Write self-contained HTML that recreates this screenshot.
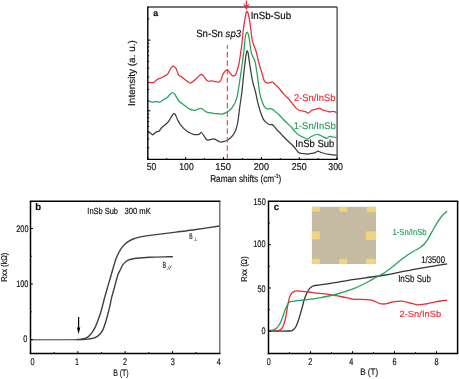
<!DOCTYPE html>
<html><head><meta charset="utf-8"><style>
html,body{margin:0;padding:0;background:#fff;}
svg{display:block;will-change:transform;filter:blur(0.45px);}
text{font-family:"Liberation Sans",sans-serif;text-rendering:geometricPrecision;}
</style></head><body>
<svg width="459" height="379" viewBox="0 0 459 379">
<rect width="459" height="379" fill="#fff"/>
<g fill="#111">
<path d="M147.60,131.20 C148.05,131.52 149.45,132.50 150.30,133.10 C151.15,133.70 152.00,134.77 152.70,134.80 C153.40,134.83 153.80,133.83 154.50,133.30 C155.20,132.77 156.10,132.00 156.90,131.60 C157.70,131.20 158.52,131.55 159.30,130.90 C160.08,130.25 160.62,128.72 161.60,127.70 C162.58,126.68 164.10,125.78 165.20,124.80 C166.30,123.82 167.28,122.93 168.20,121.80 C169.12,120.67 169.83,119.33 170.70,118.00 C171.57,116.67 172.63,114.35 173.40,113.80 C174.17,113.25 174.53,113.57 175.30,114.70 C176.07,115.83 177.12,118.92 178.00,120.60 C178.88,122.28 179.48,123.33 180.60,124.80 C181.72,126.27 183.35,128.17 184.70,129.40 C186.05,130.63 187.23,131.37 188.70,132.20 C190.17,133.03 191.80,134.05 193.50,134.40 C195.20,134.75 197.60,134.62 198.90,134.30 C200.20,133.98 200.50,132.32 201.30,132.50 C202.10,132.68 202.92,134.32 203.70,135.40 C204.48,136.48 205.32,138.20 206.00,139.00 C206.68,139.80 207.10,140.10 207.80,140.20 C208.50,140.30 209.20,139.83 210.20,139.60 C211.20,139.37 212.72,138.70 213.80,138.80 C214.88,138.90 215.62,139.67 216.70,140.20 C217.78,140.73 219.20,141.77 220.30,142.00 C221.40,142.23 222.22,141.80 223.30,141.60 C224.38,141.40 225.82,141.23 226.80,140.80 C227.78,140.37 228.20,139.90 229.20,139.00 C230.20,138.10 231.72,136.87 232.80,135.40 C233.88,133.93 234.90,132.27 235.70,130.20 C236.50,128.13 237.07,125.70 237.60,123.00 C238.13,120.30 238.52,116.83 238.90,114.00 C239.28,111.17 239.40,109.67 239.90,106.00 C240.40,102.33 241.35,96.50 241.90,92.00 C242.45,87.50 242.65,84.15 243.20,79.00 C243.75,73.85 244.67,65.43 245.20,61.10 C245.73,56.77 246.07,54.75 246.40,53.00 C246.73,51.25 246.92,50.60 247.20,50.60 C247.48,50.60 247.78,51.47 248.10,53.00 C248.42,54.53 248.60,56.47 249.10,59.80 C249.60,63.13 250.43,69.05 251.10,73.00 C251.77,76.95 252.38,80.42 253.10,83.50 C253.82,86.58 254.63,88.38 255.40,91.50 C256.17,94.62 256.88,98.88 257.70,102.20 C258.52,105.52 259.42,108.67 260.30,111.40 C261.18,114.13 262.00,116.73 263.00,118.60 C264.00,120.47 265.20,121.60 266.30,122.60 C267.40,123.60 268.62,124.27 269.60,124.60 C270.58,124.93 271.32,124.17 272.20,124.60 C273.08,125.03 274.02,126.22 274.90,127.20 C275.78,128.18 276.65,129.57 277.50,130.50 C278.35,131.43 279.20,131.98 280.00,132.80 C280.80,133.62 281.20,134.23 282.30,135.40 C283.40,136.57 284.85,138.12 286.60,139.80 C288.35,141.48 291.17,143.83 292.80,145.50 C294.43,147.17 295.38,148.58 296.40,149.80 C297.42,151.02 297.88,152.18 298.90,152.80 C299.92,153.42 301.08,153.28 302.50,153.50 C303.92,153.72 305.77,154.13 307.40,154.10 C309.03,154.07 310.88,153.60 312.30,153.30 C313.72,153.00 314.98,152.67 315.90,152.30 C316.82,151.93 316.98,151.10 317.80,151.10 C318.62,151.10 319.68,151.90 320.80,152.30 C321.92,152.70 323.08,153.15 324.50,153.50 C325.92,153.85 327.88,154.17 329.30,154.40 C330.72,154.63 331.75,154.77 333.00,154.90 C334.25,155.03 336.17,155.15 336.80,155.20" fill="none" stroke="#3c3c3c" stroke-width="1.25" stroke-linejoin="round"/>
<path d="M147.60,99.80 C147.83,100.02 148.12,100.70 149.00,101.10 C149.88,101.50 151.70,102.13 152.90,102.20 C154.10,102.27 155.10,101.50 156.20,101.50 C157.30,101.50 158.50,102.35 159.50,102.20 C160.50,102.05 161.32,101.15 162.20,100.60 C163.08,100.05 163.93,99.42 164.80,98.90 C165.67,98.38 166.52,98.28 167.40,97.50 C168.28,96.72 169.27,95.03 170.10,94.20 C170.93,93.37 171.63,92.50 172.40,92.50 C173.17,92.50 173.98,93.37 174.70,94.20 C175.42,95.03 175.93,96.28 176.70,97.50 C177.47,98.72 178.20,100.33 179.30,101.50 C180.40,102.67 181.98,103.52 183.30,104.50 C184.62,105.48 186.00,106.58 187.20,107.40 C188.40,108.22 189.60,108.95 190.50,109.40 C191.40,109.85 191.80,109.93 192.60,110.10 C193.40,110.27 194.42,110.57 195.30,110.40 C196.18,110.23 196.92,109.42 197.90,109.10 C198.88,108.78 200.32,108.43 201.20,108.50 C202.08,108.57 202.43,108.95 203.20,109.50 C203.97,110.05 204.82,111.27 205.80,111.80 C206.78,112.33 208.00,112.48 209.10,112.70 C210.20,112.92 211.40,112.93 212.40,113.10 C213.40,113.27 214.22,113.60 215.10,113.70 C215.98,113.80 216.60,113.65 217.70,113.70 C218.80,113.75 220.48,114.10 221.70,114.00 C222.92,113.90 223.90,113.58 225.00,113.10 C226.10,112.62 227.38,111.70 228.30,111.10 C229.22,110.50 229.78,110.22 230.50,109.50 C231.22,108.78 231.80,108.02 232.60,106.80 C233.40,105.58 234.52,104.07 235.30,102.20 C236.08,100.33 236.72,98.13 237.30,95.60 C237.88,93.07 238.37,89.67 238.80,87.00 C239.23,84.33 239.38,83.03 239.90,79.60 C240.42,76.17 241.23,71.23 241.90,66.40 C242.57,61.57 243.33,55.50 243.90,50.60 C244.47,45.70 244.92,39.88 245.30,37.00 C245.68,34.12 245.88,34.08 246.20,33.30 C246.52,32.52 246.83,32.10 247.20,32.30 C247.57,32.50 248.00,33.05 248.40,34.50 C248.80,35.95 249.15,38.10 249.60,41.00 C250.05,43.90 250.52,49.20 251.10,51.90 C251.68,54.60 252.43,55.55 253.10,57.20 C253.77,58.85 254.45,59.17 255.10,61.80 C255.75,64.43 256.45,69.38 257.00,73.00 C257.55,76.62 257.95,80.18 258.40,83.50 C258.85,86.82 259.05,89.78 259.70,92.90 C260.35,96.02 261.42,99.78 262.30,102.20 C263.18,104.62 264.12,106.27 265.00,107.40 C265.88,108.53 266.62,108.78 267.60,109.00 C268.58,109.22 269.92,108.53 270.90,108.70 C271.88,108.87 272.62,109.37 273.50,110.00 C274.38,110.63 275.38,111.83 276.20,112.50 C277.02,113.17 277.32,112.97 278.40,114.00 C279.48,115.03 281.27,117.20 282.70,118.70 C284.13,120.20 285.53,121.57 287.00,123.00 C288.47,124.43 290.17,125.87 291.50,127.30 C292.83,128.73 293.78,130.32 295.00,131.60 C296.22,132.88 297.52,134.10 298.80,135.00 C300.08,135.90 301.25,136.30 302.70,137.00 C304.15,137.70 306.07,139.28 307.50,139.20 C308.93,139.12 309.70,137.28 311.30,136.50 C312.90,135.72 315.35,134.57 317.10,134.50 C318.85,134.43 320.22,135.47 321.80,136.10 C323.38,136.73 325.32,138.23 326.60,138.30 C327.88,138.37 328.37,136.72 329.50,136.50 C330.63,136.28 332.22,136.83 333.40,137.00 C334.58,137.17 336.07,137.42 336.60,137.50" fill="none" stroke="#25a25c" stroke-width="1.25" stroke-linejoin="round"/>
<path d="M147.60,82.30 C148.60,82.30 151.95,82.80 153.60,82.30 C155.25,81.80 156.18,80.07 157.50,79.30 C158.82,78.53 160.28,78.30 161.50,77.70 C162.72,77.10 163.82,76.25 164.80,75.70 C165.78,75.15 166.42,75.60 167.40,74.40 C168.38,73.20 169.75,69.88 170.70,68.50 C171.65,67.12 172.22,66.10 173.10,66.10 C173.98,66.10 175.08,67.02 176.00,68.50 C176.92,69.98 177.62,73.58 178.60,75.00 C179.58,76.42 180.68,76.12 181.90,77.00 C183.12,77.88 184.57,79.30 185.90,80.30 C187.23,81.30 188.78,82.77 189.90,83.00 C191.02,83.23 191.60,82.37 192.60,81.70 C193.60,81.03 194.80,80.00 195.90,79.00 C197.00,78.00 198.25,76.47 199.20,75.70 C200.15,74.93 200.82,74.28 201.60,74.40 C202.38,74.52 203.08,75.45 203.90,76.40 C204.72,77.35 205.63,79.27 206.50,80.10 C207.37,80.93 208.22,81.32 209.10,81.40 C209.98,81.48 211.03,80.60 211.80,80.60 C212.57,80.60 212.93,81.22 213.70,81.40 C214.47,81.58 215.55,81.55 216.40,81.70 C217.25,81.85 218.03,82.63 218.80,82.30 C219.57,81.97 220.20,81.23 221.00,79.70 C221.80,78.17 222.57,74.75 223.60,73.10 C224.63,71.45 226.20,69.92 227.20,69.80 C228.20,69.68 228.73,71.43 229.60,72.40 C230.47,73.37 231.48,75.13 232.40,75.60 C233.32,76.07 234.28,76.08 235.10,75.20 C235.92,74.32 236.62,72.43 237.30,70.30 C237.98,68.17 238.65,65.25 239.20,62.40 C239.75,59.55 240.15,56.27 240.60,53.20 C241.05,50.13 241.53,47.20 241.90,44.00 C242.27,40.80 242.32,38.03 242.80,34.00 C243.28,29.97 244.20,23.45 244.80,19.80 C245.40,16.15 245.85,13.20 246.40,12.10 C246.95,11.00 247.48,11.27 248.10,13.20 C248.72,15.13 249.42,19.23 250.10,23.70 C250.78,28.17 251.55,36.37 252.20,40.00 C252.85,43.63 253.30,43.42 254.00,45.50 C254.70,47.58 255.67,49.90 256.40,52.50 C257.13,55.10 257.75,58.57 258.40,61.10 C259.05,63.63 259.65,65.50 260.30,67.70 C260.95,69.90 261.63,72.10 262.30,74.30 C262.97,76.50 263.53,79.47 264.30,80.90 C265.07,82.33 266.02,82.57 266.90,82.90 C267.78,83.23 268.72,83.05 269.60,82.90 C270.48,82.75 271.43,81.90 272.20,82.00 C272.97,82.10 273.53,82.92 274.20,83.50 C274.87,84.08 275.47,84.80 276.20,85.50 C276.93,86.20 277.37,86.30 278.60,87.70 C279.83,89.10 281.92,92.02 283.60,93.90 C285.28,95.78 287.27,97.43 288.70,99.00 C290.13,100.57 291.05,101.87 292.20,103.30 C293.35,104.73 294.47,106.45 295.60,107.60 C296.73,108.75 297.87,109.63 299.00,110.20 C300.13,110.77 301.25,110.72 302.40,111.00 C303.55,111.28 304.90,111.55 305.90,111.90 C306.90,112.25 307.40,113.38 308.40,113.10 C309.40,112.82 310.75,110.83 311.90,110.20 C313.05,109.57 314.02,109.60 315.30,109.30 C316.58,109.00 318.32,108.25 319.60,108.40 C320.88,108.55 321.85,109.77 323.00,110.20 C324.15,110.63 325.35,110.72 326.50,111.00 C327.65,111.28 328.77,111.83 329.90,111.90 C331.03,111.97 332.18,111.27 333.30,111.40 C334.42,111.53 336.05,112.48 336.60,112.70" fill="none" stroke="#eb2b35" stroke-width="1.25" stroke-linejoin="round"/>
<line x1="227.3" y1="45" x2="227.3" y2="158.5" stroke="#eb2b35" stroke-width="1" stroke-dasharray="5.5 3" stroke-dashoffset="1.6"/>
<line x1="147.80" y1="7.00" x2="337.10" y2="7.00" stroke="#444" stroke-width="1.3"/>
<line x1="337.10" y1="7.00" x2="337.10" y2="159.40" stroke="#444" stroke-width="1.3"/>
<line x1="147.80" y1="6.50" x2="147.80" y2="160.10" stroke="#000" stroke-width="1.4"/>
<line x1="147.10" y1="159.40" x2="337.60" y2="159.40" stroke="#000" stroke-width="1.4"/>
<line x1="147.80" y1="159.40" x2="147.80" y2="157.10" stroke="#000" stroke-width="1"/>
<line x1="166.73" y1="159.40" x2="166.73" y2="158.10" stroke="#000" stroke-width="1"/>
<line x1="185.66" y1="159.40" x2="185.66" y2="157.10" stroke="#000" stroke-width="1"/>
<line x1="204.59" y1="159.40" x2="204.59" y2="158.10" stroke="#000" stroke-width="1"/>
<line x1="223.52" y1="159.40" x2="223.52" y2="157.10" stroke="#000" stroke-width="1"/>
<line x1="242.45" y1="159.40" x2="242.45" y2="158.10" stroke="#000" stroke-width="1"/>
<line x1="261.38" y1="159.40" x2="261.38" y2="157.10" stroke="#000" stroke-width="1"/>
<line x1="280.31" y1="159.40" x2="280.31" y2="158.10" stroke="#000" stroke-width="1"/>
<line x1="299.24" y1="159.40" x2="299.24" y2="157.10" stroke="#000" stroke-width="1"/>
<line x1="318.17" y1="159.40" x2="318.17" y2="158.10" stroke="#000" stroke-width="1"/>
<line x1="337.10" y1="159.40" x2="337.10" y2="157.10" stroke="#000" stroke-width="1"/>
<line x1="147.80" y1="147.77" x2="149.20" y2="147.77" stroke="#000" stroke-width="1"/>
<line x1="147.80" y1="138.93" x2="149.20" y2="138.93" stroke="#000" stroke-width="1"/>
<line x1="147.80" y1="132.08" x2="149.20" y2="132.08" stroke="#000" stroke-width="1"/>
<line x1="147.80" y1="126.48" x2="149.20" y2="126.48" stroke="#000" stroke-width="1"/>
<line x1="147.80" y1="121.75" x2="149.20" y2="121.75" stroke="#000" stroke-width="1"/>
<line x1="147.80" y1="117.65" x2="149.20" y2="117.65" stroke="#000" stroke-width="1"/>
<line x1="147.80" y1="114.04" x2="149.20" y2="114.04" stroke="#000" stroke-width="1"/>
<line x1="147.80" y1="110.80" x2="150.40" y2="110.80" stroke="#000" stroke-width="1"/>
<line x1="147.80" y1="89.52" x2="149.20" y2="89.52" stroke="#000" stroke-width="1"/>
<line x1="147.80" y1="77.07" x2="149.20" y2="77.07" stroke="#000" stroke-width="1"/>
<line x1="147.80" y1="68.23" x2="149.20" y2="68.23" stroke="#000" stroke-width="1"/>
<line x1="147.80" y1="61.38" x2="149.20" y2="61.38" stroke="#000" stroke-width="1"/>
<line x1="147.80" y1="55.78" x2="149.20" y2="55.78" stroke="#000" stroke-width="1"/>
<line x1="147.80" y1="51.05" x2="149.20" y2="51.05" stroke="#000" stroke-width="1"/>
<line x1="147.80" y1="46.95" x2="149.20" y2="46.95" stroke="#000" stroke-width="1"/>
<line x1="147.80" y1="43.34" x2="149.20" y2="43.34" stroke="#000" stroke-width="1"/>
<line x1="147.80" y1="40.10" x2="150.40" y2="40.10" stroke="#000" stroke-width="1"/>
<line x1="147.80" y1="18.82" x2="149.20" y2="18.82" stroke="#000" stroke-width="1"/>
<line x1="246.4" y1="0.6" x2="246.4" y2="7" stroke="#eb2b35" stroke-width="1.3"/>
<path d="M243.0,3.3 L246.4,10.3 L249.8,3.3 L246.4,6.0 Z" fill="#eb2b35"/>
<defs><linearGradient id="fl" gradientUnits="userSpaceOnUse" x1="30.5" y1="0" x2="82" y2="0"><stop offset="0" stop-color="#7a7a7a"/><stop offset="0.75" stop-color="#707070"/><stop offset="1" stop-color="#404040"/></linearGradient></defs>
<line x1="30.5" y1="339.75" x2="82" y2="339.6" stroke="url(#fl)" stroke-width="1.4"/>
<path d="M77.00,339.60 C77.72,339.52 79.87,339.33 81.30,339.10 C82.73,338.87 84.37,338.65 85.60,338.20 C86.83,337.75 87.65,337.32 88.70,336.40 C89.75,335.48 90.83,334.20 91.90,332.70 C92.97,331.20 94.13,329.33 95.10,327.40 C96.07,325.47 96.83,323.38 97.70,321.10 C98.57,318.82 99.52,316.17 100.30,313.70 C101.08,311.23 101.78,308.58 102.40,306.30 C103.02,304.02 103.43,302.13 104.00,300.00 C104.57,297.87 105.15,295.82 105.80,293.50 C106.45,291.18 107.18,288.57 107.90,286.10 C108.62,283.63 109.38,281.17 110.10,278.70 C110.82,276.23 111.52,273.67 112.20,271.30 C112.88,268.93 113.52,266.72 114.20,264.50 C114.88,262.28 115.50,260.05 116.30,258.00 C117.10,255.95 118.12,253.88 119.00,252.20 C119.88,250.52 120.63,249.23 121.60,247.90 C122.57,246.57 123.57,245.33 124.80,244.20 C126.03,243.07 127.60,241.97 129.00,241.10 C130.40,240.23 131.80,239.58 133.20,239.00 C134.60,238.42 135.98,238.00 137.40,237.60 C138.82,237.20 140.27,236.88 141.70,236.60 C143.13,236.32 144.62,236.10 146.00,235.90 C147.38,235.70 147.67,235.70 150.00,235.40 C152.33,235.10 155.67,234.65 160.00,234.10 C164.33,233.55 170.00,232.87 176.00,232.10 C182.00,231.33 188.75,230.52 196.00,229.50 C203.25,228.48 215.58,226.58 219.50,226.00" fill="none" stroke="#404040" stroke-width="1.4" stroke-linejoin="round"/>
<path d="M81.00,339.60 C82.12,339.52 85.88,339.28 87.70,339.10 C89.52,338.92 90.50,338.82 91.90,338.50 C93.30,338.18 94.78,337.90 96.10,337.20 C97.42,336.50 98.65,335.57 99.80,334.30 C100.95,333.03 102.03,331.62 103.00,329.60 C103.97,327.58 104.82,324.67 105.60,322.20 C106.38,319.73 107.00,317.45 107.70,314.80 C108.40,312.15 109.15,309.15 109.80,306.30 C110.45,303.45 110.95,300.37 111.60,297.70 C112.25,295.03 112.98,292.93 113.70,290.30 C114.42,287.67 115.18,284.53 115.90,281.90 C116.62,279.27 117.22,276.62 118.00,274.50 C118.78,272.38 119.82,270.82 120.60,269.20 C121.38,267.58 121.83,266.05 122.70,264.80 C123.57,263.55 124.75,262.52 125.80,261.70 C126.85,260.88 127.77,260.40 129.00,259.90 C130.23,259.40 131.80,258.98 133.20,258.70 C134.60,258.42 135.98,258.35 137.40,258.20 C138.82,258.05 140.28,257.92 141.70,257.80 C143.12,257.68 144.52,257.58 145.90,257.50 C147.28,257.42 148.08,257.37 150.00,257.30 C151.92,257.23 154.90,257.17 157.40,257.10 C159.90,257.03 162.42,256.97 165.00,256.90 C167.58,256.83 171.58,256.73 172.90,256.70" fill="none" stroke="#404040" stroke-width="1.4" stroke-linejoin="round"/>
<line x1="29.80" y1="201.30" x2="220.40" y2="201.30" stroke="#000" stroke-width="1.5"/>
<line x1="219.80" y1="201.30" x2="219.80" y2="353.40" stroke="#555" stroke-width="1.2"/>
<line x1="30.50" y1="201.30" x2="30.50" y2="354.10" stroke="#000" stroke-width="1.5"/>
<line x1="29.80" y1="353.40" x2="220.40" y2="353.40" stroke="#000" stroke-width="1.5"/>
<line x1="54.16" y1="353.40" x2="54.16" y2="352.10" stroke="#000" stroke-width="1"/>
<line x1="77.83" y1="353.40" x2="77.83" y2="351.10" stroke="#000" stroke-width="1"/>
<line x1="101.49" y1="353.40" x2="101.49" y2="352.10" stroke="#000" stroke-width="1"/>
<line x1="125.15" y1="353.40" x2="125.15" y2="351.10" stroke="#000" stroke-width="1"/>
<line x1="148.81" y1="353.40" x2="148.81" y2="352.10" stroke="#000" stroke-width="1"/>
<line x1="172.48" y1="353.40" x2="172.48" y2="351.10" stroke="#000" stroke-width="1"/>
<line x1="196.14" y1="353.40" x2="196.14" y2="352.10" stroke="#000" stroke-width="1"/>
<line x1="30.50" y1="339.60" x2="32.90" y2="339.60" stroke="#000" stroke-width="1"/>
<line x1="30.50" y1="311.83" x2="31.80" y2="311.83" stroke="#000" stroke-width="1"/>
<line x1="30.50" y1="284.05" x2="32.90" y2="284.05" stroke="#000" stroke-width="1"/>
<line x1="30.50" y1="256.28" x2="31.80" y2="256.28" stroke="#000" stroke-width="1"/>
<line x1="30.50" y1="228.50" x2="32.90" y2="228.50" stroke="#000" stroke-width="1"/>
<line x1="78.6" y1="317.0" x2="78.6" y2="329" stroke="#000" stroke-width="1.2"/>
<path d="M76.9,327.6 L78.6,333.9 L80.3,327.6 Z" fill="#000"/>
<rect x="311.9" y="206.8" width="64.1" height="57.2" fill="#c5bba2"/>
<rect x="311.9" y="206.8" width="8.2" height="5.0" rx="1.6" fill="#f0d47e"/>
<rect x="339.1" y="206.8" width="8.2" height="5.0" rx="1.6" fill="#f0d47e"/>
<rect x="366.6" y="206.8" width="9.4" height="5.4" rx="1.6" fill="#f0d47e"/>
<rect x="311.9" y="231.2" width="8.0" height="8.4" rx="1.6" fill="#f0d47e"/>
<rect x="365.7" y="231.2" width="10.3" height="8.9" rx="1.6" fill="#f0d47e"/>
<rect x="311.9" y="258.8" width="8.2" height="5.2" rx="1.6" fill="#f0d47e"/>
<rect x="339.1" y="258.8" width="8.2" height="5.2" rx="1.6" fill="#f0d47e"/>
<rect x="365.7" y="258.8" width="10.3" height="5.2" rx="1.6" fill="#f0d47e"/>
<path d="M268.90,331.00 C272.25,331.00 285.02,331.15 289.00,331.00 C292.98,330.85 291.68,330.77 292.80,330.10 C293.92,329.43 294.87,328.35 295.70,327.00 C296.53,325.65 297.10,323.90 297.80,322.00 C298.50,320.10 299.18,317.97 299.90,315.60 C300.62,313.23 301.38,310.42 302.10,307.80 C302.82,305.18 303.50,302.17 304.20,299.90 C304.90,297.63 305.58,295.85 306.30,294.20 C307.02,292.55 307.67,291.18 308.50,290.00 C309.33,288.82 310.37,287.82 311.30,287.10 C312.23,286.38 312.98,286.03 314.10,285.70 C315.22,285.37 314.15,285.67 318.00,285.10 C321.85,284.53 331.15,283.25 337.20,282.30 C343.25,281.35 348.58,280.28 354.30,279.40 C360.02,278.52 366.38,277.73 371.50,277.00 C376.62,276.27 380.07,275.85 385.00,275.00 C389.93,274.15 395.72,272.93 401.10,271.90 C406.48,270.87 411.92,269.77 417.30,268.80 C422.68,267.83 428.43,266.92 433.40,266.10 C438.37,265.28 444.82,264.27 447.10,263.90" fill="none" stroke="#333" stroke-width="1.3" stroke-linejoin="round"/>
<path d="M268.90,331.00 C269.90,331.00 273.30,331.08 274.90,331.00 C276.50,330.92 277.40,330.88 278.50,330.50 C279.60,330.12 280.68,329.52 281.50,328.70 C282.32,327.88 282.78,327.12 283.40,325.60 C284.02,324.08 284.70,321.62 285.20,319.60 C285.70,317.58 286.00,315.73 286.40,313.50 C286.80,311.27 287.20,308.43 287.60,306.20 C288.00,303.97 288.40,301.77 288.80,300.10 C289.20,298.43 289.48,297.38 290.00,296.20 C290.52,295.02 291.18,293.80 291.90,293.00 C292.62,292.20 293.42,291.75 294.30,291.40 C295.18,291.05 295.87,290.90 297.20,290.90 C298.53,290.90 300.30,291.22 302.30,291.40 C304.30,291.58 306.63,291.70 309.20,292.00 C311.77,292.30 314.75,292.85 317.70,293.20 C320.65,293.55 324.23,293.75 326.90,294.10 C329.57,294.45 331.42,294.90 333.70,295.30 C335.98,295.70 338.32,296.07 340.60,296.50 C342.88,296.93 345.40,297.45 347.40,297.90 C349.40,298.35 350.58,298.97 352.60,299.20 C354.62,299.43 357.50,299.23 359.50,299.30 C361.50,299.37 362.75,299.50 364.60,299.60 C366.45,299.70 368.88,299.62 370.60,299.90 C372.32,300.18 373.42,300.70 374.90,301.30 C376.38,301.90 377.98,303.05 379.50,303.50 C381.02,303.95 382.42,304.08 384.00,304.00 C385.58,303.92 387.17,303.40 389.00,303.00 C390.83,302.60 392.83,301.90 395.00,301.60 C397.17,301.30 399.50,300.97 402.00,301.20 C404.50,301.43 407.42,302.40 410.00,303.00 C412.58,303.60 414.92,304.63 417.50,304.80 C420.08,304.97 422.85,304.40 425.50,304.00 C428.15,303.60 430.90,302.90 433.40,302.40 C435.90,301.90 438.22,301.37 440.50,301.00 C442.78,300.63 446.00,300.33 447.10,300.20" fill="none" stroke="#eb2b35" stroke-width="1.3" stroke-linejoin="round"/>
<path d="M268.90,330.50 C269.68,330.40 272.30,330.32 273.60,329.90 C274.90,329.48 275.78,328.82 276.70,328.00 C277.62,327.18 278.30,326.30 279.10,325.00 C279.90,323.70 280.78,321.92 281.50,320.20 C282.22,318.48 282.78,316.43 283.40,314.70 C284.02,312.97 284.60,311.32 285.20,309.80 C285.80,308.28 286.40,306.77 287.00,305.60 C287.60,304.43 288.08,303.50 288.80,302.80 C289.52,302.10 290.15,301.72 291.30,301.40 C292.45,301.08 293.58,301.13 295.70,300.90 C297.82,300.67 301.47,300.28 304.00,300.00 C306.53,299.72 308.32,299.57 310.90,299.20 C313.48,298.83 316.55,298.33 319.50,297.80 C322.45,297.27 325.65,296.63 328.60,296.00 C331.55,295.37 334.35,294.77 337.20,294.00 C340.05,293.23 342.85,292.33 345.70,291.40 C348.55,290.47 351.43,289.55 354.30,288.40 C357.17,287.25 360.03,285.92 362.90,284.50 C365.77,283.08 368.65,281.45 371.50,279.90 C374.35,278.35 377.72,276.48 380.00,275.20 C382.28,273.92 383.53,273.28 385.20,272.20 C386.87,271.12 388.42,269.90 390.00,268.70 C391.58,267.50 392.85,266.48 394.70,265.00 C396.55,263.52 398.95,261.47 401.10,259.80 C403.25,258.13 405.45,256.47 407.60,255.00 C409.75,253.53 411.85,252.28 414.00,251.00 C416.15,249.72 418.75,248.52 420.50,247.30 C422.25,246.08 423.17,245.23 424.50,243.70 C425.83,242.17 427.02,240.52 428.50,238.10 C429.98,235.68 431.78,232.03 433.40,229.20 C435.02,226.37 436.72,223.38 438.20,221.10 C439.68,218.82 440.82,217.17 442.30,215.50 C443.78,213.83 446.30,211.83 447.10,211.10" fill="none" stroke="#25a25c" stroke-width="1.3" stroke-linejoin="round"/>
<line x1="267.80" y1="201.30" x2="458.30" y2="201.30" stroke="#000" stroke-width="1.5"/>
<line x1="457.60" y1="201.30" x2="457.60" y2="353.50" stroke="#000" stroke-width="1.5"/>
<line x1="268.50" y1="201.30" x2="268.50" y2="354.20" stroke="#000" stroke-width="1.5"/>
<line x1="267.80" y1="353.50" x2="458.30" y2="353.50" stroke="#000" stroke-width="1.5"/>
<line x1="289.50" y1="353.50" x2="289.50" y2="352.20" stroke="#000" stroke-width="1"/>
<line x1="310.50" y1="353.50" x2="310.50" y2="351.20" stroke="#000" stroke-width="1"/>
<line x1="331.50" y1="353.50" x2="331.50" y2="352.20" stroke="#000" stroke-width="1"/>
<line x1="352.50" y1="353.50" x2="352.50" y2="351.20" stroke="#000" stroke-width="1"/>
<line x1="373.50" y1="353.50" x2="373.50" y2="352.20" stroke="#000" stroke-width="1"/>
<line x1="394.50" y1="353.50" x2="394.50" y2="351.20" stroke="#000" stroke-width="1"/>
<line x1="415.50" y1="353.50" x2="415.50" y2="352.20" stroke="#000" stroke-width="1"/>
<line x1="436.50" y1="353.50" x2="436.50" y2="351.20" stroke="#000" stroke-width="1"/>
<line x1="268.50" y1="331.30" x2="270.90" y2="331.30" stroke="#000" stroke-width="1"/>
<line x1="268.50" y1="309.65" x2="269.80" y2="309.65" stroke="#000" stroke-width="1"/>
<line x1="268.50" y1="288.00" x2="270.90" y2="288.00" stroke="#000" stroke-width="1"/>
<line x1="268.50" y1="266.35" x2="269.80" y2="266.35" stroke="#000" stroke-width="1"/>
<line x1="268.50" y1="244.70" x2="270.90" y2="244.70" stroke="#000" stroke-width="1"/>
<line x1="268.50" y1="223.05" x2="269.80" y2="223.05" stroke="#000" stroke-width="1"/>
<line x1="268.50" y1="201.40" x2="270.90" y2="201.40" stroke="#000" stroke-width="1"/>
<text x="153.25" y="16.00" font-size="8.9" font-weight="bold" stroke="#111" stroke-width="0.18">a</text>
<text x="196.15" y="36.75" font-size="10.3" textLength="45.02" lengthAdjust="spacingAndGlyphs" stroke="#111" stroke-width="0.18">Sn-Sn <tspan font-style="italic">sp3</tspan></text>
<text x="250.65" y="19.25" font-size="10.3" textLength="40.49" lengthAdjust="spacingAndGlyphs" stroke="#111" stroke-width="0.18">InSb-Sub</text>
<text x="293.95" y="101.15" font-size="9.8" textLength="41.56" lengthAdjust="spacingAndGlyphs" fill="#eb2b35" stroke="#eb2b35" stroke-width="0.15">2-Sn/InSb</text>
<text x="293.65" y="129.05" font-size="9.8" textLength="42.13" lengthAdjust="spacingAndGlyphs" fill="#25a25c" stroke="#25a25c" stroke-width="0.15">1-Sn/InSb</text>
<text x="295.25" y="146.55" font-size="10.2" textLength="39.06" lengthAdjust="spacingAndGlyphs" stroke="#111" stroke-width="0.18">InSb Sub</text>
<text x="146.65" y="169.95" font-size="9.9" textLength="9.50" lengthAdjust="spacingAndGlyphs" stroke="#111" stroke-width="0.18">50</text>
<text x="179.35" y="169.95" font-size="9.9" textLength="14.31" lengthAdjust="spacingAndGlyphs" stroke="#111" stroke-width="0.18">100</text>
<text x="215.25" y="169.95" font-size="9.9" textLength="15.62" lengthAdjust="spacingAndGlyphs" stroke="#111" stroke-width="0.18">150</text>
<text x="253.75" y="169.95" font-size="9.9" textLength="15.25" lengthAdjust="spacingAndGlyphs" stroke="#111" stroke-width="0.18">200</text>
<text x="291.75" y="169.95" font-size="9.9" textLength="14.84" lengthAdjust="spacingAndGlyphs" stroke="#111" stroke-width="0.18">250</text>
<text x="328.25" y="169.95" font-size="9.9" textLength="14.64" lengthAdjust="spacingAndGlyphs" stroke="#111" stroke-width="0.18">300</text>
<text x="210.15" y="181.80" font-size="9.9" textLength="71.22" lengthAdjust="spacingAndGlyphs" stroke="#111" stroke-width="0.18">Raman shifts (cm<tspan font-size="6" dy="-3.8">-1</tspan><tspan dy="3.8">)</tspan></text>
<text transform="translate(134.80,73.10) rotate(-90)" text-anchor="middle" font-size="9.8" textLength="65.62" lengthAdjust="spacingAndGlyphs" stroke="#111" stroke-width="0.18">Intensity (a. u.)</text>
<text x="35.35" y="210.15" font-size="9.6" font-weight="bold" stroke="#111" stroke-width="0.18">b</text>
<text x="87.35" y="213.75" font-size="8.8" textLength="30.62" lengthAdjust="spacingAndGlyphs" stroke="#111" stroke-width="0.18">InSb Sub</text>
<text x="124.45" y="214.25" font-size="8.8" textLength="26.37" lengthAdjust="spacingAndGlyphs" stroke="#111" stroke-width="0.18">300 mK</text>
<text x="189.15" y="238.95" font-size="8.4" textLength="3.36" lengthAdjust="spacingAndGlyphs" stroke="#111" stroke-width="0.18">B</text>
<text x="193.25" y="241.25" font-size="5.6">&#x22A5;</text>
<text x="162.75" y="267.55" font-size="8.8" textLength="3.30" lengthAdjust="spacingAndGlyphs" stroke="#111" stroke-width="0.18">B</text>
<text x="167.45" y="270.25" font-size="6.2" font-style="italic">//</text>
<text x="16.25" y="232.30" font-size="9.5" textLength="12.21" lengthAdjust="spacingAndGlyphs" stroke="#111" stroke-width="0.18">200</text>
<text x="16.15" y="287.35" font-size="9.5" textLength="12.21" lengthAdjust="spacingAndGlyphs" stroke="#111" stroke-width="0.18">100</text>
<text x="23.15" y="342.20" font-size="9.5" textLength="4.08" lengthAdjust="spacingAndGlyphs" stroke="#111" stroke-width="0.18">0</text>
<text x="30.55" y="364.95" font-size="9.8" textLength="4.04" lengthAdjust="spacingAndGlyphs" stroke="#111" stroke-width="0.18">0</text>
<text x="75.05" y="364.95" font-size="9.8" textLength="4.04" lengthAdjust="spacingAndGlyphs" stroke="#111" stroke-width="0.18">1</text>
<text x="122.90" y="364.95" font-size="9.8" textLength="4.04" lengthAdjust="spacingAndGlyphs" stroke="#111" stroke-width="0.18">2</text>
<text x="170.75" y="364.95" font-size="9.8" textLength="4.04" lengthAdjust="spacingAndGlyphs" stroke="#111" stroke-width="0.18">3</text>
<text x="216.65" y="364.95" font-size="9.8" textLength="4.04" lengthAdjust="spacingAndGlyphs" stroke="#111" stroke-width="0.18">4</text>
<text x="113.15" y="375.95" font-size="9.3" textLength="15.49" lengthAdjust="spacingAndGlyphs" stroke="#111" stroke-width="0.18">B (T)</text>
<text transform="translate(6.75,267.25) rotate(-90)" text-anchor="middle" font-size="8.4" textLength="29.09" lengthAdjust="spacingAndGlyphs" stroke="#111" stroke-width="0.18">Rxx (k&#x3A9;)</text>
<text x="273.65" y="210.00" font-size="9.6" font-weight="bold" stroke="#111" stroke-width="0.18">c</text>
<text x="392.55" y="235.15" font-size="8.7" textLength="34.06" lengthAdjust="spacingAndGlyphs" fill="#25a25c" stroke="#25a25c" stroke-width="0.15">1-Sn/InSb</text>
<text x="421.25" y="262.65" font-size="9.6" textLength="23.69" lengthAdjust="spacingAndGlyphs" stroke="#111" stroke-width="0.18">1/3500</text>
<text x="398.15" y="281.95" font-size="10.0" textLength="32.72" lengthAdjust="spacingAndGlyphs" stroke="#111" stroke-width="0.18">InSb Sub</text>
<text x="399.55" y="316.65" font-size="9.0" textLength="41.63" lengthAdjust="spacingAndGlyphs" fill="#eb2b35" stroke="#eb2b35" stroke-width="0.15">2-Sn/InSb</text>
<text x="253.50" y="205.20" font-size="9.5" textLength="12.21" lengthAdjust="spacingAndGlyphs" stroke="#111" stroke-width="0.18">150</text>
<text x="253.30" y="246.90" font-size="9.5" textLength="12.21" lengthAdjust="spacingAndGlyphs" stroke="#111" stroke-width="0.18">100</text>
<text x="257.50" y="291.55" font-size="9.5" textLength="8.15" lengthAdjust="spacingAndGlyphs" stroke="#111" stroke-width="0.18">50</text>
<text x="261.50" y="334.35" font-size="9.5" textLength="4.08" lengthAdjust="spacingAndGlyphs" stroke="#111" stroke-width="0.18">0</text>
<text x="266.85" y="365.15" font-size="9.8" textLength="4.04" lengthAdjust="spacingAndGlyphs" stroke="#111" stroke-width="0.18">0</text>
<text x="308.25" y="365.15" font-size="9.8" textLength="4.04" lengthAdjust="spacingAndGlyphs" stroke="#111" stroke-width="0.18">2</text>
<text x="349.30" y="365.15" font-size="9.8" textLength="4.04" lengthAdjust="spacingAndGlyphs" stroke="#111" stroke-width="0.18">4</text>
<text x="392.55" y="365.15" font-size="9.8" textLength="4.04" lengthAdjust="spacingAndGlyphs" stroke="#111" stroke-width="0.18">6</text>
<text x="434.60" y="365.15" font-size="9.8" textLength="4.04" lengthAdjust="spacingAndGlyphs" stroke="#111" stroke-width="0.18">8</text>
<text x="360.25" y="374.50" font-size="9.3" textLength="17.83" lengthAdjust="spacingAndGlyphs" stroke="#111" stroke-width="0.18">B (T)</text>
<text transform="translate(246.75,269.05) rotate(-90)" text-anchor="middle" font-size="8.4" textLength="25.33" lengthAdjust="spacingAndGlyphs" stroke="#111" stroke-width="0.18">Rxx (&#x3A9;)</text>
</g>
</svg>
</body></html>
